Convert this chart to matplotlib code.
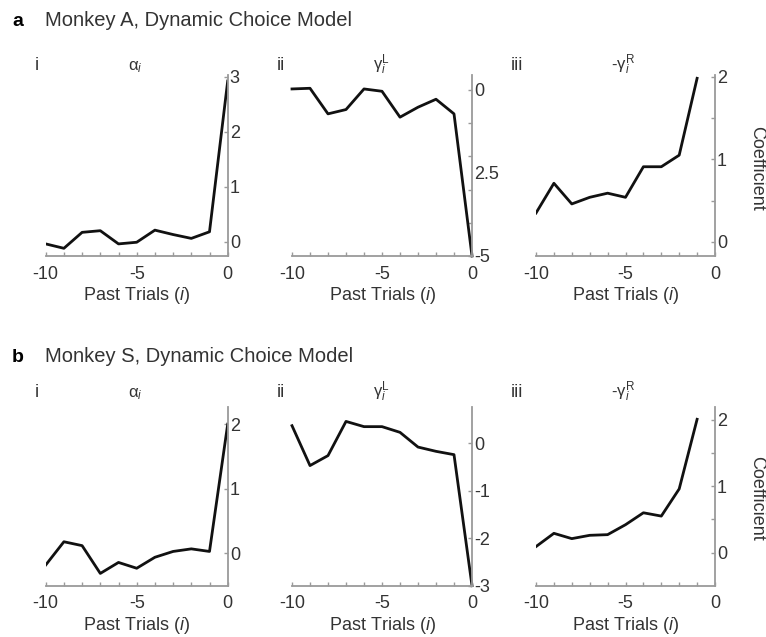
"""Dynamic choice model: per-lag coefficients for two monkeys"""

import matplotlib
matplotlib.use("Agg")
import matplotlib.pyplot as plt
import numpy as np

plt.rcParams["font.family"] = ["Liberation Sans", "DejaVu Sans"]
plt.rcParams["mathtext.fontset"] = "custom"
plt.rcParams["mathtext.rm"] = "Liberation Sans"
plt.rcParams["mathtext.it"] = "Liberation Sans:italic"
plt.rcParams["mathtext.bf"] = "Liberation Sans:bold"

# past trials
lags = np.arange(-10, 1)
lags_r = np.arange(-10, 0)

# Monkey A
a_alpha = [-0.04, -0.12, 0.17, 0.20, -0.04, -0.01, 0.21, 0.13, 0.06, 0.18, 2.92]
a_gamma_l = [0.03, 0.05, -0.72, -0.59, 0.03, -0.04, -0.82, -0.52, -0.28, -0.72, -5.0]
a_gamma_r = [0.35, 0.71, 0.46, 0.54, 0.59, 0.54, 0.91, 0.91, 1.05, 1.98]

# Monkey S
b_alpha = [-0.18, 0.18, 0.12, -0.31, -0.14, -0.23, -0.06, 0.03, 0.07, 0.03, 2.0]
b_gamma_l = [0.37, -0.47, -0.26, 0.46, 0.35, 0.35, 0.23, -0.08, -0.17, -0.24, -3.0]
b_gamma_r = [0.09, 0.29, 0.21, 0.26, 0.27, 0.42, 0.60, 0.55, 0.96, 2.01]

GREY = "#9a9a9a"
TXT = "#333333"
FS = 13
W, H = 766, 637


def px_axes(fig, x0, x1, ytop, ybot):
    return fig.add_axes([x0 / W, 1 - ybot / H, (x1 - x0) / W, (ybot - ytop) / H])


def style(ax, ylim, yticks, ylabels, minor=None):
    ax.set_xlim(-10, 0)
    ax.set_ylim(*ylim)
    for s in ("top", "left"):
        ax.spines[s].set_visible(False)
    for s in ("bottom", "right"):
        ax.spines[s].set_color(GREY)
        ax.spines[s].set_linewidth(1.3)
    ax.set_xticks(np.arange(-10, 1))
    ax.set_xticklabels(["-10", "", "", "", "", "-5", "", "", "", "", "0"])
    ax.yaxis.tick_right()
    ax.set_yticks(yticks)
    ax.set_yticklabels(ylabels)
    if minor is not None:
        ax.set_yticks(minor, minor=True)
    ax.tick_params(axis="x", direction="in", length=3, width=1, color=GREY,
                   labelsize=FS, labelcolor=TXT, pad=7)
    ax.tick_params(axis="y", which="both", direction="in", length=3, width=1,
                   color=GREY, labelsize=FS, labelcolor=TXT, pad=1.5)
    ax.set_xlabel(r"Past Trials ($\mathit{i}$)", fontsize=FS, color=TXT, labelpad=2)
    ax.patch.set_alpha(0)


def main() -> None:
    fig = plt.figure(figsize=(W / 100, H / 100), dpi=100)
    cols = [(45.7, 227.7), (292, 472), (536, 715)]
    rows = [(75, 256), (406.7, 585.7)]

    # row a
    ax = px_axes(fig, *cols[0], *rows[0])
    ax.plot(lags, a_alpha, color="#111111", lw=2)
    style(ax, (-0.26, 3.03), [0, 1, 2, 3], ["0", "1", "2", "3"])
    ax = px_axes(fig, *cols[1], *rows[0])
    ax.plot(lags, a_gamma_l, color="#111111", lw=2, clip_on=False)
    style(ax, (-5, 0.45), [0, -1, -2, -3, -4, -5], ["0", "", "", "", "", "-5"])
    ax.set_yticks([-2.5], minor=True)
    ax.set_yticklabels(["2.5"], minor=True)
    ax.tick_params(axis="y", which="minor", length=0, pad=1.5)
    ax = px_axes(fig, *cols[2], *rows[0])
    ax.plot(lags_r, a_gamma_r, color="#111111", lw=2)
    style(ax, (-0.17, 2.02), [0, 1, 2], ["0", "1", "2"], minor=[0.5, 1.5])

    # row b
    ax = px_axes(fig, *cols[0], *rows[1])
    ax.plot(lags, b_alpha, color="#111111", lw=2)
    style(ax, (-0.5, 2.27), [0, 1, 2], ["0", "1", "2"])
    ax = px_axes(fig, *cols[1], *rows[1])
    ax.plot(lags, b_gamma_l, color="#111111", lw=2, clip_on=False)
    style(ax, (-3, 0.77), [0, -1, -2, -3], ["0", "-1", "-2", "-3"])
    ax = px_axes(fig, *cols[2], *rows[1])
    ax.plot(lags_r, b_gamma_r, color="#111111", lw=2)
    style(ax, (-0.5, 2.2), [0, 1, 2], ["0", "1", "2"], minor=[0.5, 1.5])

    # panel texts
    def t(x, y, s, **kw):
        fig.text(x / W, 1 - y / H, s, va="baseline", **kw)

    for base, who, tag in ((26, "Monkey A, Dynamic Choice Model", "a"),
                           (362, "Monkey S, Dynamic Choice Model", "b")):
        t(12, base, tag, fontsize=14, fontweight="bold", color="black")
        t(45, base, who, fontsize=14.5, color=TXT)
    for base in (70, 397):
        t(35, base, "i", fontsize=FS, color=TXT)
        t(135, base, r"$\mathrm{\alpha}_\mathit{i}$", fontsize=12, color=TXT, ha="center")
        t(277, base, "ii", fontsize=FS, color=TXT)
        t(381, base, r"$\mathrm{\gamma}_\mathit{i}^\mathrm{L}$", fontsize=12, color=TXT,
          ha="center")
        t(511, base, "iii", fontsize=FS, color=TXT)
        t(623, base, r"-$\mathrm{\gamma}_\mathit{i}^\mathrm{R}$", fontsize=12, color=TXT,
          ha="center")
    for yc in (168, 498):
        fig.text(757 / W, 1 - yc / H, "Coefficient", rotation=270, fontsize=FS,
                 color=TXT, ha="center", va="center")

    fig.savefig("out.png", dpi=100)
    plt.close(fig)


if __name__ == "__main__":
    main()
